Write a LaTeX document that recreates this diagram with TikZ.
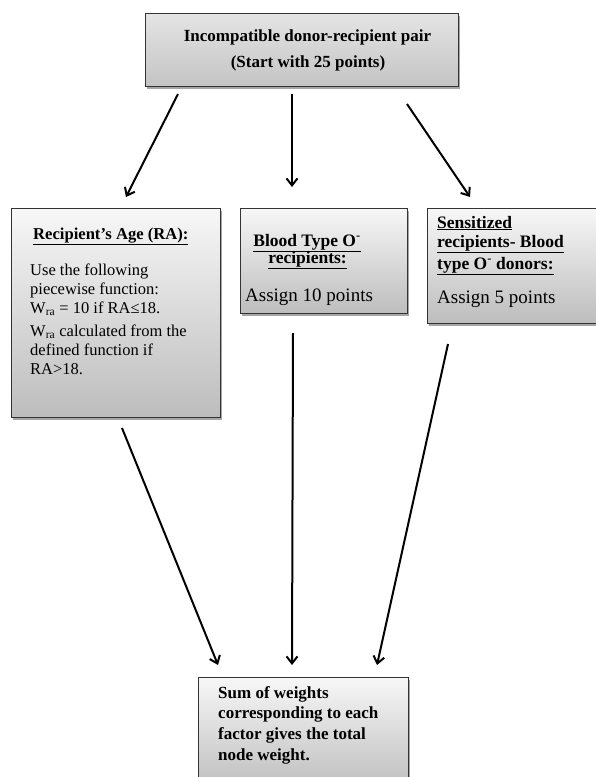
\documentclass[tikz,border=0pt]{standalone}
\usepackage{fontspec}
\setmainfont{Liberation Serif}
\usetikzlibrary{arrows.meta,shadows}
\definecolor{frame}{HTML}{333333}
\definecolor{panelTop}{HTML}{F7F7F7}
\definecolor{panelBot}{HTML}{BDBDBD}
\definecolor{startTop}{HTML}{E4E4E4}
\definecolor{startBot}{HTML}{C4C4C4}
\begin{document}
\begin{tikzpicture}[x=1pt,y=-1pt,
  panel/.style={draw=frame, line width=1pt, top color=panelTop, bottom color=panelBot,
    inner sep=0pt, anchor=north west,
    drop shadow={shadow xshift=1.5pt, shadow yshift=-2pt, fill=black, opacity=0.35}},
  startpanel/.style={panel, top color=startTop, bottom color=startBot},
  boldline/.style={inner sep=0pt, anchor=base west, font=\bfseries\fontsize{17}{20}\selectfont},
  bodyline/.style={inner sep=0pt, anchor=base west, font=\fontsize{16.5}{19}\selectfont},
  bigline/.style={inner sep=0pt, anchor=base west, font=\fontsize{19}{22}\selectfont},
  link/.style={line width=2pt, -{Straight Barb[length=7pt,width=11pt,line width=2pt]}}
]
\useasboundingbox (0,0) rectangle (595,777);

% boxes
\node[startpanel, minimum width=313pt, minimum height=73pt] (start) at (145,13) {};
\node[panel, minimum width=209pt, minimum height=209pt] (age) at (11,208) {};
\node[panel, minimum width=167pt, minimum height=105pt] (blood) at (240,208) {};
\node[panel, minimum width=175pt, minimum height=115pt] (sens) at (427,208) {};
\node[panel, minimum width=210pt, minimum height=113pt] (sum) at (198,677) {};

% start box text
\node[boldline, anchor=base] (startA) at (307.5,41) {Incompatible donor-recipient pair};
\node[boldline, anchor=base] (startB) at (308,67) {(Start with 25 points)};

% recipient's age
\node[boldline, font=\bfseries\fontsize{16.6}{19}\selectfont] (ageHead) at (33,239) {\underline{Recipient’s Age (RA):}};
\node[bodyline] (age1) at (30,275) {Use the following};
\node[bodyline] (age2) at (30,294) {piecewise function:};
\node[bodyline] (age3) at (30,313) {W\textsubscript{ra} = 10 if RA≤18.};
\node[bodyline] (age4) at (30,336) {W\textsubscript{ra} calculated from the};
\node[bodyline] (age5) at (30,355) {defined function if};
\node[bodyline] (age6) at (30,374) {RA>18.};

% blood type
\node[boldline, anchor=base, font=\bfseries\fontsize{17.5}{20}\selectfont] (blood1) at (307,246) {\underline{Blood Type O\textsuperscript{-}}};
\node[boldline, anchor=base, font=\bfseries\fontsize{17.5}{20}\selectfont] (blood2) at (307.5,263) {\underline{recipients:}};
\node[bigline] (blood3) at (245,301) {Assign 10 points};

% sensitized recipients
\node[boldline, font=\bfseries\fontsize{17.5}{20}\selectfont] (sens1) at (437,228) {\underline{Sensitized}};
\node[boldline, font=\bfseries\fontsize{17.5}{20}\selectfont] (sens2) at (437,247) {\underline{recipients- Blood}};
\node[boldline, font=\bfseries\fontsize{17.5}{20}\selectfont] (sens3) at (437,269) {\underline{type O\textsuperscript{-} donors:}};
\node[bigline] (sens4) at (437,303) {Assign 5 points};

% sum box
\node[boldline] (sum1) at (218,698) {Sum of weights};
\node[boldline] (sum2) at (218,718) {corresponding to each};
\node[boldline] (sum3) at (218,739) {factor gives the total};
\node[boldline] (sum4) at (218,760) {node weight.};

% arrow ends
\coordinate (s1) at (178,94);  \coordinate (e1) at (126,197);
\coordinate (s2) at (292,94);  \coordinate (e2) at (292,187);
\coordinate (s3) at (407,104); \coordinate (e3) at (470,197);
\coordinate (t1) at (122,428); \coordinate (f1) at (218,665);
\coordinate (t2) at (293,333); \coordinate (f2) at (292,665);
\coordinate (t3) at (448,344); \coordinate (f3) at (377,665);

\draw[link] (s1) -- (e1);
\draw[link] (s2) -- (e2);
\draw[link] (s3) -- (e3);
\draw[link] (t1) -- (f1);
\draw[link] (t2) -- (f2);
\draw[link] (t3) -- (f3);
\end{tikzpicture}
\end{document}
